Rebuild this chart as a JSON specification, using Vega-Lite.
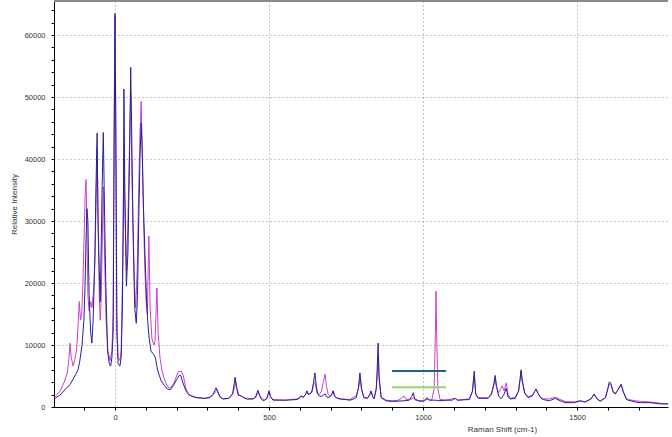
{
  "$schema": "https://vega.github.io/schema/vega-lite/v6.json",
  "width": 614,
  "height": 406,
  "autosize": {"type": "none"},
  "padding": {"left": 54, "top": 1, "right": 4, "bottom": 30},
  "background": "white",
  "config": {
    "view": {"stroke": null},
    "axis": {
      "labelFont": "Liberation Sans",
      "labelFontSize": 7.5,
      "labelColor": "#333333",
      "labelOverlap": false,
      "labelFlush": false,
      "titleFont": "Liberation Sans",
      "titleFontSize": 8,
      "titleFontWeight": "normal",
      "titleColor": "#333333",
      "domainColor": "#000000",
      "tickColor": "#000000",
      "tickSize": 3,
      "gridColor": "#888888",
      "gridDash": [1, 3]
    }
  },
  "datasets": {
    "magenta": [
      {"x": -198, "y": 1500}, {"x": -179, "y": 2500}, {"x": -165, "y": 4000}, {"x": -155, "y": 5500}, {"x": -149, "y": 8000}, {"x": -146, "y": 10300}, {"x": -142, "y": 8000}, {"x": -136, "y": 6600}, {"x": -131, "y": 7500}, {"x": -125, "y": 9000}, {"x": -120, "y": 13000}, {"x": -116, "y": 17000}, {"x": -112, "y": 14000}, {"x": -108, "y": 15000}, {"x": -104, "y": 20000}, {"x": -100, "y": 28000}, {"x": -97, "y": 34000}, {"x": -94, "y": 36700}, {"x": -91, "y": 28000}, {"x": -88, "y": 18000}, {"x": -84, "y": 15500}, {"x": -79, "y": 17000}, {"x": -75, "y": 16000}, {"x": -71, "y": 18000}, {"x": -68, "y": 19800}, {"x": -65, "y": 24000}, {"x": -61, "y": 34000}, {"x": -58, "y": 41800}, {"x": -55, "y": 30000}, {"x": -51, "y": 18000}, {"x": -48, "y": 14000}, {"x": -45, "y": 17000}, {"x": -42, "y": 25000}, {"x": -38, "y": 35500}, {"x": -34, "y": 25000}, {"x": -29, "y": 14000}, {"x": -23, "y": 9000}, {"x": -16, "y": 7500}, {"x": -10, "y": 9000}, {"x": -6, "y": 15000}, {"x": -3, "y": 45000}, {"x": 0, "y": 63000}, {"x": 3, "y": 45000}, {"x": 6, "y": 15000}, {"x": 10, "y": 8000}, {"x": 16, "y": 7500}, {"x": 20, "y": 9000}, {"x": 24, "y": 20000}, {"x": 29, "y": 40000}, {"x": 32, "y": 32000}, {"x": 37, "y": 22000}, {"x": 42, "y": 30000}, {"x": 47, "y": 42000}, {"x": 51, "y": 50500}, {"x": 54, "y": 40000}, {"x": 58, "y": 30000}, {"x": 63, "y": 20000}, {"x": 67, "y": 16000}, {"x": 72, "y": 22000}, {"x": 77, "y": 35000}, {"x": 81, "y": 44000}, {"x": 85, "y": 49300}, {"x": 89, "y": 40000}, {"x": 93, "y": 30000}, {"x": 97, "y": 22000}, {"x": 101, "y": 17000}, {"x": 105, "y": 15000}, {"x": 110, "y": 27600}, {"x": 114, "y": 16000}, {"x": 120, "y": 11000}, {"x": 126, "y": 10000}, {"x": 130, "y": 10600}, {"x": 136, "y": 19200}, {"x": 140, "y": 12000}, {"x": 146, "y": 8000}, {"x": 152, "y": 6000}, {"x": 160, "y": 4500}, {"x": 170, "y": 3300}, {"x": 180, "y": 3000}, {"x": 190, "y": 3800}, {"x": 200, "y": 5000}, {"x": 205, "y": 5700}, {"x": 215, "y": 5800}, {"x": 222, "y": 5000}, {"x": 230, "y": 3000}, {"x": 240, "y": 1900},
      {"x": 250, "y": 1800}, {"x": 266, "y": 1500}, {"x": 290, "y": 1400}, {"x": 308, "y": 1600}, {"x": 318, "y": 2000}, {"x": 324, "y": 2300}, {"x": 331, "y": 2800}, {"x": 336, "y": 2200}, {"x": 342, "y": 1600}, {"x": 351, "y": 1300}, {"x": 370, "y": 1400}, {"x": 382, "y": 2000}, {"x": 388, "y": 3300}, {"x": 392, "y": 4000}, {"x": 396, "y": 3000}, {"x": 402, "y": 1900}, {"x": 409, "y": 1800}, {"x": 418, "y": 1500}, {"x": 429, "y": 1300}, {"x": 448, "y": 1300}, {"x": 456, "y": 1500}, {"x": 461, "y": 2000}, {"x": 466, "y": 2400}, {"x": 470, "y": 1800}, {"x": 478, "y": 1300}, {"x": 485, "y": 1100}, {"x": 492, "y": 1300}, {"x": 497, "y": 2000}, {"x": 501, "y": 2500}, {"x": 505, "y": 1700}, {"x": 513, "y": 1200}, {"x": 552, "y": 1100}, {"x": 591, "y": 1300}, {"x": 600, "y": 1600}, {"x": 606, "y": 1800}, {"x": 612, "y": 1600}, {"x": 618, "y": 2000}, {"x": 623, "y": 2500}, {"x": 628, "y": 2000}, {"x": 640, "y": 2500}, {"x": 646, "y": 4000}, {"x": 650, "y": 3800}, {"x": 656, "y": 2200}, {"x": 662, "y": 2000}, {"x": 670, "y": 2500}, {"x": 676, "y": 4000}, {"x": 682, "y": 5300}, {"x": 686, "y": 3500}, {"x": 692, "y": 2000}, {"x": 700, "y": 1800}, {"x": 705, "y": 2200}, {"x": 709, "y": 2600}, {"x": 713, "y": 1800}, {"x": 720, "y": 1500}, {"x": 731, "y": 1300}, {"x": 763, "y": 1200}, {"x": 775, "y": 1600}, {"x": 783, "y": 1800}, {"x": 790, "y": 3000}, {"x": 796, "y": 4500}, {"x": 801, "y": 2600}, {"x": 808, "y": 1500}, {"x": 820, "y": 1500}, {"x": 827, "y": 2000}, {"x": 832, "y": 2400}, {"x": 837, "y": 1700}, {"x": 841, "y": 1400}, {"x": 848, "y": 2800}, {"x": 851, "y": 5000}, {"x": 855, "y": 8000}, {"x": 858, "y": 4000}, {"x": 864, "y": 1600}, {"x": 880, "y": 1100}, {"x": 900, "y": 1000}, {"x": 920, "y": 1100}, {"x": 932, "y": 1500}, {"x": 938, "y": 1800}, {"x": 945, "y": 1200}, {"x": 963, "y": 1300}, {"x": 968, "y": 1500}, {"x": 975, "y": 1100}, {"x": 990, "y": 1000}, {"x": 1013, "y": 1200}, {"x": 1028, "y": 1100}, {"x": 1036, "y": 3000}, {"x": 1040, "y": 12000}, {"x": 1042, "y": 18700}, {"x": 1044, "y": 12000}, {"x": 1048, "y": 3000}, {"x": 1055, "y": 1200}, {"x": 1075, "y": 1100}, {"x": 1104, "y": 1400}, {"x": 1112, "y": 1100}, {"x": 1150, "y": 1300}, {"x": 1160, "y": 2500}, {"x": 1166, "y": 5000}, {"x": 1171, "y": 2100}, {"x": 1179, "y": 1500}, {"x": 1211, "y": 1500}, {"x": 1222, "y": 2200}, {"x": 1230, "y": 3600}, {"x": 1234, "y": 4500}, {"x": 1238, "y": 3200}, {"x": 1245, "y": 2300}, {"x": 1257, "y": 3400}, {"x": 1263, "y": 2600}, {"x": 1270, "y": 3900}, {"x": 1276, "y": 2000}, {"x": 1283, "y": 1400}, {"x": 1299, "y": 1500}, {"x": 1310, "y": 2600}, {"x": 1315, "y": 4500}, {"x": 1318, "y": 5700}, {"x": 1322, "y": 4200}, {"x": 1330, "y": 2300}, {"x": 1341, "y": 1600}, {"x": 1355, "y": 1900}, {"x": 1362, "y": 2500}, {"x": 1367, "y": 2800}, {"x": 1373, "y": 2200}, {"x": 1383, "y": 1500}, {"x": 1390, "y": 1300}, {"x": 1410, "y": 1300}, {"x": 1429, "y": 1600}, {"x": 1445, "y": 1200}, {"x": 1461, "y": 900}, {"x": 1490, "y": 800}, {"x": 1510, "y": 1000}, {"x": 1525, "y": 800}, {"x": 1545, "y": 1300}, {"x": 1555, "y": 2000}, {"x": 1565, "y": 1300}, {"x": 1575, "y": 1000}, {"x": 1592, "y": 1500}, {"x": 1600, "y": 3000}, {"x": 1604, "y": 3700}, {"x": 1609, "y": 3600}, {"x": 1617, "y": 2500}, {"x": 1624, "y": 2200}, {"x": 1633, "y": 2800}, {"x": 1643, "y": 3500}, {"x": 1650, "y": 2500}, {"x": 1660, "y": 1400}, {"x": 1666, "y": 1200}, {"x": 1690, "y": 1000}, {"x": 1705, "y": 900}, {"x": 1737, "y": 800}, {"x": 1770, "y": 600}, {"x": 1795, "y": 500}
    ],
    "blue": [
      {"x": -198, "y": 1300}, {"x": -179, "y": 1900}, {"x": -159, "y": 3000}, {"x": -146, "y": 3600}, {"x": -136, "y": 4500}, {"x": -127, "y": 5300}, {"x": -120, "y": 6000}, {"x": -114, "y": 7500}, {"x": -107, "y": 10000}, {"x": -101, "y": 14000}, {"x": -97, "y": 20000}, {"x": -94, "y": 27000}, {"x": -91, "y": 32000}, {"x": -88, "y": 30000}, {"x": -84, "y": 18000}, {"x": -79, "y": 12000}, {"x": -75, "y": 10300}, {"x": -71, "y": 14000}, {"x": -65, "y": 25000}, {"x": -62, "y": 35000}, {"x": -58, "y": 44200}, {"x": -55, "y": 30000}, {"x": -51, "y": 22000}, {"x": -48, "y": 17000}, {"x": -45, "y": 25000}, {"x": -42, "y": 35000}, {"x": -38, "y": 44300}, {"x": -35, "y": 35000}, {"x": -30, "y": 20000}, {"x": -24, "y": 9000}, {"x": -18, "y": 6800}, {"x": -14, "y": 6600}, {"x": -10, "y": 8000}, {"x": -6, "y": 12000}, {"x": -3, "y": 40000}, {"x": 0, "y": 63500}, {"x": 3, "y": 40000}, {"x": 6, "y": 12000}, {"x": 10, "y": 7000}, {"x": 16, "y": 6600}, {"x": 20, "y": 8000}, {"x": 24, "y": 16000}, {"x": 27, "y": 30000}, {"x": 29, "y": 51300}, {"x": 32, "y": 35000}, {"x": 37, "y": 19500}, {"x": 42, "y": 25000}, {"x": 47, "y": 40000}, {"x": 51, "y": 54800}, {"x": 54, "y": 45000}, {"x": 57, "y": 34000}, {"x": 60, "y": 25000}, {"x": 64, "y": 16000}, {"x": 69, "y": 13500}, {"x": 73, "y": 18000}, {"x": 77, "y": 30000}, {"x": 81, "y": 40000}, {"x": 85, "y": 45800}, {"x": 88, "y": 42000}, {"x": 92, "y": 33000}, {"x": 97, "y": 25000}, {"x": 102, "y": 18000}, {"x": 106, "y": 14000}, {"x": 111, "y": 11000}, {"x": 117, "y": 9000}, {"x": 125, "y": 8500}, {"x": 131, "y": 8000}, {"x": 136, "y": 6500}, {"x": 141, "y": 5500}, {"x": 150, "y": 4200}, {"x": 160, "y": 3500}, {"x": 170, "y": 2900}, {"x": 180, "y": 2800}, {"x": 190, "y": 3500}, {"x": 200, "y": 4400}, {"x": 210, "y": 5200}, {"x": 214, "y": 5000}, {"x": 220, "y": 4000}, {"x": 230, "y": 2600}, {"x": 240, "y": 2000},
      {"x": 250, "y": 1700}, {"x": 266, "y": 1500}, {"x": 290, "y": 1400}, {"x": 308, "y": 1500}, {"x": 318, "y": 2000}, {"x": 324, "y": 2700}, {"x": 328, "y": 3100}, {"x": 333, "y": 2500}, {"x": 340, "y": 1700}, {"x": 351, "y": 1300}, {"x": 370, "y": 1400}, {"x": 382, "y": 2200}, {"x": 387, "y": 3800}, {"x": 390, "y": 4800}, {"x": 394, "y": 3200}, {"x": 400, "y": 1900}, {"x": 409, "y": 1800}, {"x": 418, "y": 1500}, {"x": 429, "y": 1300}, {"x": 448, "y": 1300}, {"x": 456, "y": 1600}, {"x": 461, "y": 2300}, {"x": 464, "y": 2700}, {"x": 468, "y": 2000}, {"x": 475, "y": 1300}, {"x": 481, "y": 1000}, {"x": 492, "y": 1300}, {"x": 497, "y": 2000}, {"x": 500, "y": 2600}, {"x": 504, "y": 1700}, {"x": 513, "y": 1100}, {"x": 552, "y": 1100}, {"x": 591, "y": 1200}, {"x": 600, "y": 1500}, {"x": 604, "y": 1800}, {"x": 610, "y": 1500}, {"x": 618, "y": 2000}, {"x": 623, "y": 2600}, {"x": 628, "y": 2000}, {"x": 638, "y": 2300}, {"x": 644, "y": 3800}, {"x": 649, "y": 5500}, {"x": 653, "y": 3500}, {"x": 658, "y": 2200}, {"x": 662, "y": 1800}, {"x": 670, "y": 1700}, {"x": 682, "y": 2100}, {"x": 690, "y": 1500}, {"x": 700, "y": 1700}, {"x": 705, "y": 2200}, {"x": 708, "y": 2600}, {"x": 712, "y": 1800}, {"x": 720, "y": 1400}, {"x": 731, "y": 1300}, {"x": 763, "y": 1100}, {"x": 775, "y": 1300}, {"x": 783, "y": 1500}, {"x": 790, "y": 3000}, {"x": 795, "y": 5500}, {"x": 800, "y": 3000}, {"x": 808, "y": 1500}, {"x": 820, "y": 1400}, {"x": 827, "y": 2000}, {"x": 831, "y": 2600}, {"x": 836, "y": 1700}, {"x": 841, "y": 1300}, {"x": 848, "y": 3000}, {"x": 851, "y": 6000}, {"x": 854, "y": 10300}, {"x": 857, "y": 5000}, {"x": 864, "y": 1500}, {"x": 880, "y": 1000}, {"x": 900, "y": 900}, {"x": 938, "y": 1000}, {"x": 955, "y": 1100}, {"x": 963, "y": 1700}, {"x": 968, "y": 2300}, {"x": 973, "y": 1300}, {"x": 990, "y": 900}, {"x": 1005, "y": 1000}, {"x": 1013, "y": 1500}, {"x": 1020, "y": 1100}, {"x": 1042, "y": 1100}, {"x": 1052, "y": 1000}, {"x": 1075, "y": 1100}, {"x": 1095, "y": 1100}, {"x": 1104, "y": 1400}, {"x": 1112, "y": 1100}, {"x": 1150, "y": 1200}, {"x": 1160, "y": 2500}, {"x": 1166, "y": 5800}, {"x": 1171, "y": 2000}, {"x": 1179, "y": 1400}, {"x": 1211, "y": 1400}, {"x": 1222, "y": 2000}, {"x": 1230, "y": 3800}, {"x": 1234, "y": 5100}, {"x": 1238, "y": 3500}, {"x": 1245, "y": 1800}, {"x": 1253, "y": 1300}, {"x": 1262, "y": 2000}, {"x": 1270, "y": 3000}, {"x": 1276, "y": 1600}, {"x": 1283, "y": 1300}, {"x": 1299, "y": 1400}, {"x": 1310, "y": 2600}, {"x": 1315, "y": 4500}, {"x": 1318, "y": 6000}, {"x": 1322, "y": 4200}, {"x": 1330, "y": 2200}, {"x": 1341, "y": 1500}, {"x": 1355, "y": 1800}, {"x": 1362, "y": 2500}, {"x": 1367, "y": 2900}, {"x": 1373, "y": 2200}, {"x": 1383, "y": 1400}, {"x": 1390, "y": 1200}, {"x": 1410, "y": 1000}, {"x": 1429, "y": 1400}, {"x": 1445, "y": 1000}, {"x": 1461, "y": 700}, {"x": 1490, "y": 700}, {"x": 1510, "y": 1000}, {"x": 1525, "y": 800}, {"x": 1545, "y": 1300}, {"x": 1555, "y": 2100}, {"x": 1565, "y": 1300}, {"x": 1575, "y": 900}, {"x": 1592, "y": 1500}, {"x": 1600, "y": 3000}, {"x": 1604, "y": 4000}, {"x": 1609, "y": 3900}, {"x": 1617, "y": 2400}, {"x": 1624, "y": 2100}, {"x": 1633, "y": 2800}, {"x": 1643, "y": 3700}, {"x": 1650, "y": 2400}, {"x": 1660, "y": 1200}, {"x": 1666, "y": 1100}, {"x": 1690, "y": 800}, {"x": 1705, "y": 700}, {"x": 1737, "y": 700}, {"x": 1770, "y": 500}, {"x": 1795, "y": 500}
    ],
    "markers": [
      {"x": 899, "x2": 1075, "y": 5800, "c": "teal"},
      {"x": 899, "x2": 1075, "y": 3200, "c": "green"}
    ]
  },
  "layer": [
    {
      "data": {"name": "magenta"},
      "mark": {"type": "line", "color": "#cc3fcc", "strokeWidth": 1, "clip": true},
      "encoding": {
        "x": {
          "field": "x", "type": "quantitative",
          "scale": {"domain": [-198, 1795], "nice": false, "zero": false},
          "axis": {
            "title": "Raman Shift (cm-1)",
            "values": [-100, 0, 100, 200, 300, 400, 500, 600, 700, 800, 900, 1000, 1100, 1200, 1300, 1400, 1500, 1600, 1700],
            "tickCount": 200,
            "labelExpr": "datum.value % 500 === 0 ? format(datum.value, 'd') : ''",
            "grid": true,
            "gridOpacity": {"condition": {"test": "datum.value % 500 === 0", "value": 1}, "value": 0},
            "labelPadding": 3,
            "titleX": 448,
            "titleY": 24,
            "titleAnchor": null,
            "titleAlign": "center",
            "titleBaseline": "alphabetic"
          }
        },
        "y": {
          "field": "y", "type": "quantitative",
          "scale": {"domain": [0, 65500], "nice": false},
          "axis": {
            "title": "Relative Intensity",
            "values": [0, 2000, 4000, 6000, 8000, 10000, 12000, 14000, 16000, 18000, 20000, 22000, 24000, 26000, 28000, 30000, 32000, 34000, 36000, 38000, 40000, 42000, 44000, 46000, 48000, 50000, 52000, 54000, 56000, 58000, 60000, 62000, 64000],
            "tickCount": 200,
            "labelExpr": "datum.value % 10000 === 0 ? format(datum.value, 'd') : ''",
            "grid": true,
            "gridOpacity": {"condition": {"test": "datum.value % 10000 === 0 && datum.value > 0", "value": 1}, "value": 0},
            "labelPadding": 6,
            "titlePadding": 6
          }
        }
      }
    },
    {
      "data": {"name": "blue"},
      "mark": {"type": "line", "color": "#24248f", "strokeWidth": 1, "clip": true},
      "encoding": {
        "x": {"field": "x", "type": "quantitative"},
        "y": {"field": "y", "type": "quantitative"}
      }
    },
    {
      "data": {"name": "markers"},
      "mark": {"type": "rule", "strokeWidth": 2},
      "encoding": {
        "x": {"field": "x", "type": "quantitative"},
        "x2": {"field": "x2"},
        "y": {"field": "y", "type": "quantitative"},
        "color": {"field": "c", "type": "nominal", "scale": {"domain": ["teal", "green"], "range": ["#1d6384", "#8fd86c"]}, "legend": null}
      }
    },
    {
      "data": {"values": [{"top": 65500}]},
      "mark": {"type": "rule", "color": "#8a8a8a", "strokeWidth": 2},
      "encoding": {
        "y": {"field": "top", "type": "quantitative"}
      }
    }
  ]
}
